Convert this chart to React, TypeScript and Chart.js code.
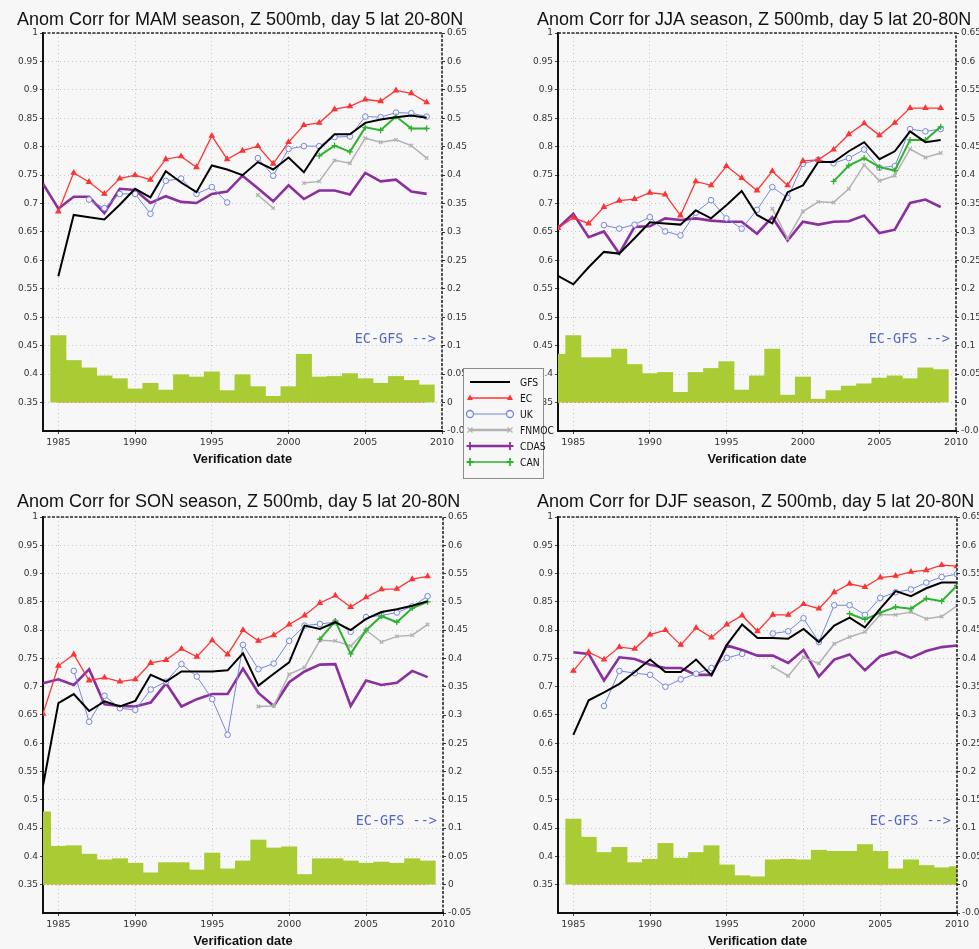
import React, { useEffect, useRef } from 'react';
import { Chart, registerables } from 'chart.js';

Chart.register(...registerables);

const _ = null;

// Verification years
const years1984 = [1984, 1985, 1986, 1987, 1988, 1989, 1990, 1991, 1992, 1993, 1994, 1995, 1996, 1997, 1998, 1999, 2000, 2001, 2002, 2003, 2004, 2005, 2006, 2007, 2008, 2009];
const years1985 = [1985, 1986, 1987, 1988, 1989, 1990, 1991, 1992, 1993, 1994, 1995, 1996, 1997, 1998, 1999, 2000, 2001, 2002, 2003, 2004, 2005, 2006, 2007, 2008, 2009, 2010];

// MAM anomaly correlations
const mamGFS = [_, 0.572, 0.680, 0.676, 0.672, 0.698, 0.726, 0.711, 0.757, 0.737, 0.720, 0.767, 0.760, 0.750, 0.773, 0.760, 0.781, 0.755, 0.796, 0.822, 0.822, 0.842, 0.848, 0.852, 0.855, 0.851];
const mamEC = [_, 0.686, 0.754, 0.738, 0.717, 0.744, 0.750, 0.742, 0.778, 0.783, 0.764, 0.819, 0.778, 0.793, 0.801, 0.770, 0.808, 0.838, 0.842, 0.866, 0.871, 0.883, 0.880, 0.899, 0.894, 0.878];
const mamUK = [_, _, _, 0.707, 0.692, 0.717, 0.717, 0.682, 0.740, 0.744, 0.717, 0.729, 0.702, _, 0.780, 0.749, 0.796, 0.801, 0.801, 0.817, 0.818, 0.853, 0.852, 0.860, 0.859, 0.853];
const mamFNMOC = [_, _, _, _, _, _, _, _, _, _, _, _, _, _, 0.715, 0.692, _, 0.736, 0.739, 0.776, 0.771, 0.815, 0.808, 0.812, 0.802, 0.780];
const mamCDAS = [0.735, 0.691, 0.712, 0.712, 0.683, 0.726, 0.724, 0.701, 0.713, 0.703, 0.701, 0.717, 0.721, 0.749, 0.727, 0.704, 0.732, 0.708, 0.723, 0.723, 0.716, 0.754, 0.739, 0.742, 0.721, 0.717];
const mamCAN = [_, _, _, _, _, _, _, _, _, _, _, _, _, _, _, _, _, _, 0.784, 0.802, 0.791, 0.834, 0.829, 0.853, 0.832, 0.832];
const mamDiff = [_, 0.118, 0.074, 0.061, 0.047, 0.042, 0.024, 0.034, 0.022, 0.049, 0.045, 0.054, 0.021, 0.049, 0.028, 0.011, 0.028, 0.085, 0.045, 0.046, 0.051, 0.042, 0.034, 0.046, 0.039, 0.031];

// JJA anomaly correlations
const jjaGFS = [0.573, 0.558, 0.588, 0.615, 0.612, 0.639, 0.667, 0.665, 0.663, 0.688, 0.674, 0.697, 0.722, 0.680, 0.665, 0.720, 0.732, 0.773, 0.773, 0.792, 0.808, 0.778, 0.792, 0.827, 0.808, 0.812];
const jjaEC = [0.657, 0.675, 0.665, 0.694, 0.705, 0.708, 0.719, 0.716, 0.679, 0.739, 0.732, 0.766, 0.745, 0.723, 0.757, 0.732, 0.775, 0.777, 0.795, 0.822, 0.841, 0.820, 0.842, 0.868, 0.868, 0.868];
const jjaUK = [_, _, _, 0.662, 0.656, 0.663, 0.676, 0.651, 0.644, 0.684, 0.706, 0.674, 0.656, 0.689, 0.729, 0.710, 0.770, 0.777, 0.771, 0.780, 0.795, 0.763, 0.766, 0.831, 0.827, 0.831];
const jjaFNMOC = [_, _, _, _, _, _, _, _, _, _, _, _, _, _, 0.691, 0.639, 0.686, 0.703, 0.702, 0.726, 0.768, 0.740, 0.749, 0.796, 0.781, 0.789];
const jjaCDAS = [0.657, 0.682, 0.641, 0.651, 0.612, 0.659, 0.660, 0.674, 0.671, 0.674, 0.670, 0.668, 0.668, 0.647, 0.676, 0.635, 0.668, 0.663, 0.668, 0.669, 0.679, 0.648, 0.654, 0.701, 0.707, 0.694];
const jjaCAN = [_, _, _, _, _, _, _, _, _, _, _, _, _, _, _, _, _, _, 0.739, 0.767, 0.780, 0.764, 0.758, 0.812, 0.812, 0.835];
const jjaDiff = [0.085, 0.118, 0.079, 0.079, 0.094, 0.067, 0.051, 0.053, 0.018, 0.053, 0.060, 0.072, 0.022, 0.047, 0.094, 0.013, 0.045, 0.006, 0.021, 0.029, 0.033, 0.043, 0.047, 0.042, 0.061, 0.058];

// SON anomaly correlations
const sonGFS = [0.525, 0.671, 0.687, 0.657, 0.674, 0.665, 0.675, 0.721, 0.709, 0.727, 0.727, 0.727, 0.729, 0.759, 0.702, 0.723, 0.743, 0.808, 0.802, 0.814, 0.800, 0.820, 0.832, 0.837, 0.843, 0.851];
const sonEC = [0.652, 0.737, 0.757, 0.711, 0.716, 0.709, 0.713, 0.742, 0.747, 0.767, 0.753, 0.782, 0.757, 0.800, 0.781, 0.791, 0.810, 0.826, 0.848, 0.861, 0.841, 0.858, 0.872, 0.873, 0.890, 0.895];
const sonUK = [_, _, 0.728, 0.638, 0.684, 0.662, 0.659, 0.695, 0.709, 0.740, 0.718, 0.678, 0.615, 0.774, 0.731, 0.741, 0.781, 0.808, 0.811, 0.814, 0.797, 0.823, 0.826, 0.831, 0.842, 0.860];
const sonFNMOC = [_, _, _, _, _, _, _, _, _, _, _, _, _, _, 0.665, 0.666, 0.722, 0.734, 0.782, 0.781, 0.772, 0.800, 0.779, 0.789, 0.791, 0.810];
const sonCDAS = [0.706, 0.713, 0.703, 0.731, 0.669, 0.666, 0.665, 0.672, 0.706, 0.665, 0.678, 0.687, 0.687, 0.732, 0.689, 0.666, 0.708, 0.727, 0.739, 0.740, 0.666, 0.711, 0.703, 0.707, 0.728, 0.717];
const sonCAN = [_, _, _, _, _, _, _, _, _, _, _, _, _, _, _, _, _, _, 0.784, 0.816, 0.758, 0.800, 0.825, 0.814, 0.839, 0.850];
const sonDiff = [0.129, 0.068, 0.069, 0.054, 0.044, 0.046, 0.038, 0.021, 0.039, 0.039, 0.026, 0.056, 0.028, 0.042, 0.079, 0.065, 0.067, 0.018, 0.046, 0.046, 0.042, 0.038, 0.040, 0.038, 0.046, 0.042];

// DJF anomaly correlations
const djfGFS = [0.615, 0.676, 0.690, 0.705, 0.726, 0.748, 0.726, 0.726, 0.748, 0.720, 0.774, 0.810, 0.786, 0.786, 0.785, 0.802, 0.779, 0.808, 0.822, 0.805, 0.838, 0.869, 0.860, 0.874, 0.884, 0.884];
const djfEC = [0.728, 0.761, 0.748, 0.770, 0.767, 0.792, 0.800, 0.774, 0.804, 0.787, 0.810, 0.826, 0.798, 0.827, 0.827, 0.846, 0.838, 0.867, 0.882, 0.876, 0.893, 0.896, 0.903, 0.906, 0.915, 0.913];
const djfUK = [_, _, 0.666, 0.728, 0.724, 0.721, 0.700, 0.713, 0.723, 0.733, 0.751, 0.758, _, 0.794, 0.798, 0.821, 0.779, 0.844, 0.844, 0.827, 0.857, 0.867, 0.872, 0.884, 0.894, 0.899];
const djfFNMOC = [_, _, _, _, _, _, _, _, _, _, _, _, _, 0.735, 0.719, 0.752, 0.741, 0.776, 0.788, 0.797, 0.827, 0.827, 0.832, 0.820, 0.824, 0.843];
const djfCDAS = [0.761, 0.758, 0.711, 0.752, 0.749, 0.739, 0.733, 0.733, 0.721, 0.721, 0.773, 0.765, 0.755, 0.755, 0.742, 0.765, 0.718, 0.748, 0.757, 0.729, 0.754, 0.762, 0.751, 0.763, 0.770, 0.773];
const djfCAN = [_, _, _, _, _, _, _, _, _, _, _, _, _, _, _, _, _, _, 0.829, 0.819, 0.831, 0.841, 0.838, 0.856, 0.851, 0.879];
const djfDiff = [0.116, 0.084, 0.057, 0.066, 0.039, 0.045, 0.073, 0.047, 0.057, 0.069, 0.035, 0.016, 0.014, 0.044, 0.045, 0.044, 0.061, 0.059, 0.059, 0.071, 0.059, 0.028, 0.044, 0.034, 0.030, 0.032];

// Tick labels
const yearTicks = [1985, 1990, 1995, 2000, 2005, 2010];
const corrTicks = [0.35, 0.4, 0.45, 0.5, 0.55, 0.6, 0.65, 0.7, 0.75, 0.8, 0.85, 0.9, 0.95, 1];
const diffTicks = [-0.05, 0, 0.05, 0.1, 0.15, 0.2, 0.25, 0.3, 0.35, 0.4, 0.45, 0.5, 0.55, 0.6, 0.65];

const BG = '#f7f7f7';
const BAR = '#a9cb34';

type Marker = 'none' | 'triangle' | 'circle' | 'crossRot' | 'cross';
type Model = { name: string; color: string; width: number; marker: Marker; size: number; onLine: boolean; legendWidth: number; order: number };

const MODELS: Model[] = [
  { name: 'GFS', color: '#000000', width: 2, marker: 'none', size: 0, onLine: false, legendWidth: 2, order: 2 },
  { name: 'EC', color: '#ff3333', width: 1.3, marker: 'triangle', size: 2.6, onLine: true, legendWidth: 1.5, order: 1 },
  { name: 'UK', color: '#7487e0', width: 1, marker: 'circle', size: 2.8, onLine: true, legendWidth: 1.2, order: 4 },
  { name: 'FNMOC', color: '#b2b2b2', width: 1.5, marker: 'crossRot', size: 2.5, onLine: true, legendWidth: 2.5, order: 5 },
  { name: 'CDAS', color: '#8b2f9f', width: 2.6, marker: 'cross', size: 3.5, onLine: false, legendWidth: 2.5, order: 6 },
  { name: 'CAN', color: '#2db22d', width: 2, marker: 'cross', size: 3, onLine: true, legendWidth: 1.5, order: 3 },
];

type Panel = {
  key: string;
  title: string;
  years: number[];
  series: Record<string, (number | null)[]>;
  diff: (number | null)[];
  box: { x: number; y: number; w: number; h: number };
  axis: { left: number; right: number; top: number; bottom: number };
  titlePos: { x: number; y: number };
  legend: boolean;
};

// Drawing order: JJA last so its legend sits above the neighbouring panel
const PANELS: Panel[] = [
  {
    key: 'mam', title: 'Anom Corr for MAM season, Z 500mb, day 5 lat 20-80N', years: years1984,
    series: { GFS: mamGFS, EC: mamEC, UK: mamUK, FNMOC: mamFNMOC, CDAS: mamCDAS, CAN: mamCAN }, diff: mamDiff,
    box: { x: 0, y: 0, w: 489, h: 475 }, axis: { left: 43, right: 47, top: 33, bottom: 44 },
    titlePos: { x: 17, y: 25 }, legend: false,
  },
  {
    key: 'son', title: 'Anom Corr for SON season, Z 500mb, day 5 lat 20-80N', years: years1984,
    series: { GFS: sonGFS, EC: sonEC, UK: sonUK, FNMOC: sonFNMOC, CDAS: sonCDAS, CAN: sonCAN }, diff: sonDiff,
    box: { x: 0, y: 475, w: 489, h: 474 }, axis: { left: 43, right: 46, top: 42, bottom: 36 },
    titlePos: { x: 17, y: 32 }, legend: false,
  },
  {
    key: 'djf', title: 'Anom Corr for DJF season, Z 500mb, day 5 lat 20-80N', years: years1985,
    series: { GFS: djfGFS, EC: djfEC, UK: djfUK, FNMOC: djfFNMOC, CDAS: djfCDAS, CAN: djfCAN }, diff: djfDiff,
    box: { x: 460, y: 475, w: 519, h: 474 }, axis: { left: 98, right: 22, top: 42, bottom: 36 },
    titlePos: { x: 77, y: 32 }, legend: false,
  },
  {
    key: 'jja', title: 'Anom Corr for JJA season, Z 500mb, day 5 lat 20-80N', years: years1984,
    series: { GFS: jjaGFS, EC: jjaEC, UK: jjaUK, FNMOC: jjaFNMOC, CDAS: jjaCDAS, CAN: jjaCAN }, diff: jjaDiff,
    box: { x: 460, y: 0, w: 519, h: 480 }, axis: { left: 98, right: 23, top: 33, bottom: 49 },
    titlePos: { x: 77, y: 25 }, legend: true,
  },
];

function drawText(ctx: CanvasRenderingContext2D, text: string, x: number, y: number, font: string, color: string, sx: number, align: 'left' | 'center' | 'right') {
  ctx.save();
  ctx.font = font;
  ctx.fillStyle = color;
  ctx.textAlign = 'left';
  ctx.textBaseline = 'alphabetic';
  const w = ctx.measureText(text).width * sx;
  const x0 = align === 'center' ? x - w / 2 : align === 'right' ? x - w : x;
  ctx.translate(x0, y);
  ctx.scale(sx, 1);
  ctx.fillText(text, 0, 0);
  ctx.restore();
}

function drawMarker(ctx: CanvasRenderingContext2D, m: Model, x: number, y: number) {
  const r = 3;
  ctx.save();
  ctx.setLineDash([]);
  ctx.strokeStyle = m.color;
  ctx.fillStyle = m.color;
  ctx.lineWidth = 1.3;
  ctx.beginPath();
  if (m.marker === 'triangle') {
    ctx.moveTo(x, y - r - 0.5);
    ctx.lineTo(x + r, y + r * 0.7);
    ctx.lineTo(x - r, y + r * 0.7);
    ctx.closePath();
    ctx.fill();
  } else if (m.marker === 'circle') {
    ctx.fillStyle = BG;
    ctx.arc(x, y, r + 0.5, 0, Math.PI * 2);
    ctx.fill();
    ctx.stroke();
  } else if (m.marker === 'crossRot') {
    ctx.moveTo(x - r + 0.5, y - r + 0.5); ctx.lineTo(x + r - 0.5, y + r - 0.5);
    ctx.moveTo(x + r - 0.5, y - r + 0.5); ctx.lineTo(x - r + 0.5, y + r - 0.5);
    ctx.stroke();
  } else if (m.marker === 'cross') {
    ctx.lineWidth = 1.8;
    ctx.moveTo(x - r - 0.5, y); ctx.lineTo(x + r + 0.5, y);
    ctx.moveTo(x, y - r - 1); ctx.lineTo(x, y + r + 1);
    ctx.stroke();
  }
  ctx.restore();
}

function drawLegend(ctx: CanvasRenderingContext2D) {
  // Legend box: canvas-relative placement
  const bx = 3, by = 368, bw = 80, bh = 110;
  const rowTop = 382, rowGap = 16, lx0 = 10, lx1 = 50, tx = 60;
  ctx.save();
  ctx.fillStyle = BG;
  ctx.fillRect(bx, by, bw, bh);
  ctx.strokeStyle = '#8c8c8c';
  ctx.lineWidth = 1;
  ctx.strokeRect(bx + 0.5, by + 0.5, bw, bh);
  MODELS.forEach((m, i) => {
    const cy = rowTop + i * rowGap;
    ctx.beginPath();
    ctx.setLineDash([]);
    ctx.strokeStyle = m.color;
    ctx.lineWidth = m.legendWidth;
    ctx.moveTo(lx0, cy);
    ctx.lineTo(lx1, cy);
    ctx.stroke();
    if (m.marker !== 'none') {
      drawMarker(ctx, m, lx0, cy);
      drawMarker(ctx, m, lx1, cy);
    }
    drawText(ctx, m.name, tx, cy + 4, "11px 'DejaVu Sans'", '#111', 0.84, 'left');
  });
  ctx.restore();
}

function decorPlugin(p: Panel) {
  return {
    id: 'decor_' + p.key,
    afterDatasetsDraw(chart: any) {
      const { ctx, scales } = chart;
      const withBars = p.years.filter((_yr, i) => p.diff[i] !== null);
      const y0 = scales.y2.getPixelForValue(0);
      ctx.save();
      ctx.beginPath();
      ctx.rect(chart.chartArea.left, chart.chartArea.top, chart.chartArea.right - chart.chartArea.left, chart.chartArea.bottom - chart.chartArea.top);
      ctx.clip();
      ctx.strokeStyle = '#f08a6e';
      ctx.lineWidth = 1;
      ctx.setLineDash([2, 2]);
      ctx.beginPath();
      ctx.moveTo(scales.x.getPixelForValue(withBars[0]), y0);
      ctx.lineTo(scales.x.getPixelForValue(withBars[withBars.length - 1]), y0);
      ctx.stroke();
      ctx.restore();
    },
    afterDraw(chart: any) {
      const { ctx, chartArea: a } = chart;
      // dashed upper and right frame
      ctx.save();
      ctx.strokeStyle = '#2a2a2a';
      ctx.lineWidth = 1.6;
      ctx.setLineDash([3, 1.5]);
      ctx.beginPath();
      ctx.moveTo(a.left, a.top);
      ctx.lineTo(a.right, a.top);
      ctx.lineTo(a.right, a.bottom);
      ctx.stroke();
      ctx.restore();

      drawText(ctx, p.title, p.titlePos.x, p.titlePos.y, "18px 'Liberation Sans'", '#111', 1.0, 'left');
      drawText(ctx, 'Verification date', (a.left + a.right) / 2, a.bottom + 32, "bold 13.5px 'Liberation Sans'", '#111', 0.95, 'center');
      drawText(ctx, 'EC-GFS -->', a.right - 6, a.bottom - 88, "13.5px 'DejaVu Sans Mono'", '#5266cc', 1.0, 'right');

      if (p.legend) drawLegend(ctx);
    },
  };
}

function buildConfig(p: Panel): any {
  const lineSets = MODELS.map((m) => ({
    type: 'line',
    label: m.name,
    data: p.years.map((yr, i) => ({ x: yr, y: p.series[m.name][i] })),
    borderColor: m.color,
    backgroundColor: m.color,
    borderWidth: m.width,
    pointStyle: m.marker === 'none' ? 'circle' : m.marker,
    pointRadius: m.onLine ? m.size : 0,
    pointHoverRadius: 0,
    pointBorderColor: m.color,
    pointBackgroundColor: m.marker === 'circle' ? BG : m.color,
    pointBorderWidth: m.marker === 'circle' ? 1 : 1.3,
    tension: 0,
    spanGaps: false,
    fill: false,
    yAxisID: 'y',
    order: m.order,
  }));

  const barSet = {
    type: 'bar',
    label: 'EC-GFS',
    data: p.years.map((yr, i) => ({ x: yr, y: p.diff[i] })),
    backgroundColor: BAR,
    borderWidth: 0,
    barPercentage: 1,
    categoryPercentage: 1,
    yAxisID: 'y2',
    order: 10,
  };

  const tickFont = { family: "'DejaVu Sans'", size: 9 };

  return {
    type: 'line',
    data: { datasets: [...lineSets, barSet] },
    plugins: [decorPlugin(p)],
    options: {
      responsive: false,
      maintainAspectRatio: false,
      devicePixelRatio: 1,
      animation: false,
      events: [],
      layout: { padding: { top: p.axis.top, left: 0, right: 0, bottom: 0 } },
      plugins: { legend: { display: false }, tooltip: { enabled: false }, title: { display: false } },
      scales: {
        x: {
          type: 'linear',
          min: 1984,
          max: 2010,
          offset: false,
          afterBuildTicks: (s: any) => { s.ticks = yearTicks.map((v) => ({ value: v })); },
          afterFit: (s: any) => { s.height = p.axis.bottom; },
          ticks: { callback: (v: any) => String(v), font: { family: "'DejaVu Sans'", size: 9.5 }, color: '#333', padding: 3, autoSkip: false, maxRotation: 0 },
          grid: { color: '#c8c8c8', lineWidth: 1, offset: false, tickLength: 3, tickColor: '#444', tickBorderDash: [] },
          border: { display: true, color: '#111', width: 2, dash: [1, 3] },
        },
        y: {
          type: 'linear',
          position: 'left',
          min: 0.3,
          max: 1,
          afterBuildTicks: (s: any) => { s.ticks = corrTicks.map((v) => ({ value: v })); },
          afterFit: (s: any) => { s.width = p.axis.left; },
          ticks: { callback: (v: any) => String(v), font: tickFont, color: '#333', padding: 2, autoSkip: false },
          grid: { color: '#c8c8c8', lineWidth: 1, tickLength: 3, tickColor: '#444', tickBorderDash: [] },
          border: { display: true, color: '#111', width: 2, dash: [1, 3] },
        },
        y2: {
          type: 'linear',
          position: 'right',
          min: -0.05,
          max: 0.65,
          afterBuildTicks: (s: any) => { s.ticks = diffTicks.map((v) => ({ value: v })); },
          afterFit: (s: any) => { s.width = p.axis.right; },
          ticks: { callback: (v: any) => String(v), font: tickFont, color: '#333', padding: 2, autoSkip: false },
          grid: { drawOnChartArea: false, tickLength: 3, tickColor: '#333', tickBorderDash: [] },
          border: { display: false },
        },
      },
    },
  };
}

export default function App() {
  const refs = useRef<(HTMLCanvasElement | null)[]>([]);

  useEffect(() => {
    const charts = PANELS.map((p, i) => new Chart(refs.current[i] as HTMLCanvasElement, buildConfig(p)));
    return () => charts.forEach((c) => c.destroy());
  }, []);

  return (
    <div style={{ position: 'absolute', left: 0, top: 0, width: 979, height: 949, background: BG, overflow: 'hidden' }}>
      {PANELS.map((p, i) => (
        <canvas
          key={p.key}
          ref={(el) => { refs.current[i] = el; }}
          width={p.box.w}
          height={p.box.h}
          style={{ position: 'absolute', left: p.box.x, top: p.box.y, width: p.box.w, height: p.box.h }}
        />
      ))}
    </div>
  );
}
